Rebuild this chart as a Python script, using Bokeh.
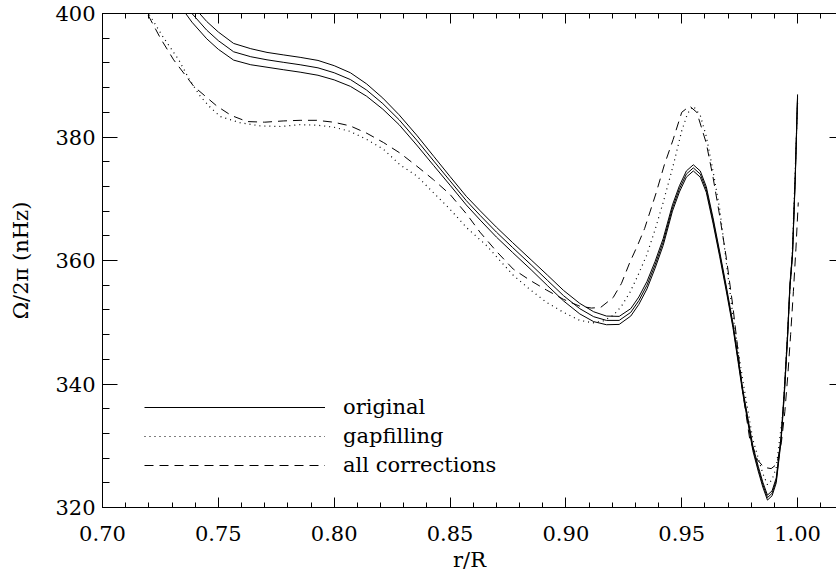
from bokeh.plotting import figure
from bokeh.models import Range1d, LinearAxis, SingleIntervalTicker, Legend, LegendItem, PrintfTickFormatter
from bokeh.embed import file_html
from bokeh.resources import INLINE

# ---- data ----
orig_r = [0.728, 0.7386, 0.745, 0.750, 0.7566, 0.764, 0.771, 0.778, 0.7853, 0.793,
          0.800, 0.807, 0.814, 0.821, 0.828, 0.8356, 0.843, 0.850, 0.857, 0.863,
          0.870, 0.877, 0.885, 0.892, 0.899, 0.906, 0.912, 0.9175, 0.923, 0.928,
          0.9315, 0.935, 0.9385, 0.942, 0.946, 0.949, 0.952, 0.955, 0.958, 0.9606,
          0.9635, 0.9664, 0.9693, 0.9721, 0.9743, 0.9764, 0.9786, 0.9807, 0.983, 0.985,
          0.987, 0.989, 0.9908, 0.9929, 0.9943, 0.9957, 0.9967, 0.9978, 0.999, 1.000]
orig_omega = [405.5, 400.0, 397.3, 395.6, 393.8, 393.0, 392.5, 392.1, 391.7, 391.2,
              390.4, 389.3, 387.6, 385.4, 382.8, 379.5, 376.1, 372.9, 369.7, 367.3,
              364.6, 362.1, 359.3, 356.8, 354.3, 352.2, 350.9, 350.3, 350.3, 351.6,
              353.5, 356.0, 359.3, 363.0, 368.5, 371.6, 374.0, 375.0, 374.0, 371.5,
              366.5, 361.0, 355.3, 349.5, 344.0, 338.7, 334.0, 329.6, 326.3, 323.7,
              321.6, 322.3, 324.4, 331.2, 338.7, 347.9, 355.9, 361.0, 373.5, 386.6]
orig_err = [1.4, 1.4, 1.4, 1.4, 1.35, 1.3, 1.2, 1.2, 1.2, 1.2,
            1.15, 1.1, 1.0, 0.9, 0.8, 0.8, 0.75, 0.7, 0.7, 0.75,
            0.8, 0.8, 0.8, 0.85, 0.85, 0.85, 0.8, 0.7, 0.65, 0.6,
            0.6, 0.6, 0.55, 0.55, 0.5, 0.5, 0.5, 0.5, 0.5, 0.45,
            0.45, 0.4, 0.4, 0.35, 0.35, 0.35, 0.35, 0.4, 0.4, 0.4,
            0.4, 0.4, 0.4, 0.35, 0.35, 0.3, 0.3, 0.3, 0.3, 0.3]

gap_r = [0.712, 0.7199, 0.7265, 0.7329, 0.7375, 0.7422, 0.7465, 0.7509, 0.7595, 0.7681,
         0.777, 0.7853, 0.793, 0.7997, 0.8069, 0.8141, 0.8213, 0.8284, 0.8356, 0.8428,
         0.850, 0.8572, 0.8658, 0.8773, 0.8845, 0.8917, 0.899, 0.906, 0.9117, 0.916,
         0.9204, 0.924, 0.9276, 0.931, 0.9348, 0.9385, 0.942, 0.9466, 0.950, 0.9525,
         0.955, 0.958, 0.9606, 0.9635, 0.9664, 0.9693, 0.9721, 0.9764, 0.9807, 0.985,
         0.987, 0.989, 0.9908, 0.9937, 0.9966, 0.9978, 1.000]
gap_omega = [405.5, 400.0, 396.0, 392.5, 389.3, 386.6, 384.8, 383.3, 382.3, 381.8,
             381.7, 382.0, 381.9, 381.6, 380.9, 379.6, 378.0, 375.5, 373.7, 371.0,
             368.3, 365.3, 362.4, 357.6, 355.3, 353.2, 351.6, 350.3, 349.9, 350.2,
             351.1, 352.6, 354.8, 357.5, 360.8, 365.0, 369.4, 375.8, 381.0, 383.8,
             385.0, 383.5, 380.1, 374.5, 368.3, 359.5, 351.0, 340.5, 331.0, 325.5,
             323.7, 324.5, 326.5, 335.5, 354.5, 362.0, 385.5]

allc_r = [0.710, 0.7193, 0.725, 0.7307, 0.7394, 0.7494, 0.7555, 0.7624, 0.770, 0.778,
          0.7853, 0.7925, 0.7997, 0.8069, 0.8141, 0.8213, 0.8284, 0.8356, 0.8428, 0.850,
          0.8572, 0.8629, 0.870, 0.8773, 0.8845, 0.8917, 0.899, 0.906, 0.911, 0.915,
          0.9204, 0.924, 0.9276, 0.931, 0.934, 0.939, 0.9425, 0.9463, 0.950, 0.9534,
          0.9565, 0.9606, 0.9635, 0.9664, 0.9693, 0.9721, 0.9764, 0.9793, 0.9827, 0.9855,
          0.9886, 0.991, 0.993, 0.9945, 0.9958, 0.997, 0.9982, 0.9993, 1.0003]
allc_omega = [406.0, 400.0, 396.0, 392.5, 388.2, 385.0, 383.5, 382.5, 382.4, 382.6,
              382.7, 382.7, 382.4, 381.8, 380.6, 379.1, 377.4, 375.3, 373.1, 370.7,
              367.5, 364.6, 361.5, 358.6, 356.8, 355.2, 353.7, 352.6, 352.3, 352.4,
              354.0, 356.3, 359.7, 362.5, 365.2, 371.0, 375.5, 379.6, 384.0, 385.0,
              384.0, 379.0, 373.5, 367.2, 360.3, 352.5, 338.5, 331.2, 327.7, 326.5,
              326.3, 327.0, 330.5, 335.5, 341.5, 348.0, 355.0, 362.0, 369.4]

legend_labels = ["original", "gapfilling", "all corrections"]

orig_hi = [m + e for m, e in zip(orig_omega, orig_err)]
orig_lo = [m - e for m, e in zip(orig_omega, orig_err)]

FONT = "DejaVu Serif"
FS = "21px"

p = figure(width=836, height=574, output_backend="svg", toolbar_location=None,
           x_range=Range1d(0.70, 1.0168), y_range=Range1d(320, 400),
           min_border_left=102, min_border_right=0, min_border_top=13, min_border_bottom=67)
p.grid.visible = False
p.outline_line_color = None
p.background_fill_color = "white"
p.border_fill_color = "white"

xticker = SingleIntervalTicker(interval=0.05, num_minor_ticks=5)
yticker = SingleIntervalTicker(interval=20, num_minor_ticks=5)

xa = p.xaxis[0]
xa.ticker = xticker
xa.formatter = PrintfTickFormatter(format="%.2f")
xa.major_tick_in = 10
xa.major_tick_out = 0
xa.minor_tick_in = 5
xa.minor_tick_out = 0
xa.major_label_standoff = 18
xa.major_label_text_font = FONT
xa.major_label_text_font_size = FS
xa.major_label_text_color = "black"
xa.axis_label = "r/R"
xa.axis_label_text_font = FONT
xa.axis_label_text_font_size = FS
xa.axis_label_text_font_style = "normal"
xa.axis_label_text_color = "black"
xa.axis_label_standoff = 4
xa.axis_line_color = "black"
xa.major_tick_line_color = "black"
xa.minor_tick_line_color = "black"

ya = p.yaxis[0]
ya.ticker = yticker
ya.major_tick_in = 15
ya.major_tick_out = 0
ya.minor_tick_in = 7
ya.minor_tick_out = 0
ya.major_label_standoff = 7
ya.major_label_text_font = FONT
ya.major_label_text_font_size = FS
ya.major_label_text_color = "black"
ya.axis_label = "Ω/2π (nHz)"
ya.axis_label_text_font = FONT
ya.axis_label_text_font_size = FS
ya.axis_label_text_font_style = "normal"
ya.axis_label_text_color = "black"
ya.axis_label_standoff = 19
ya.axis_line_color = "black"
ya.major_tick_line_color = "black"
ya.minor_tick_line_color = "black"

top = LinearAxis(ticker=xticker, major_tick_in=10, major_tick_out=0, minor_tick_in=5, minor_tick_out=0,
                 major_label_text_font_size="0px", major_label_text_color=None, major_label_text_alpha=0,
                 major_label_standoff=0,
                 axis_line_color="black", major_tick_line_color="black", minor_tick_line_color="black")
p.add_layout(top, "above")
right = LinearAxis(ticker=yticker, major_tick_in=7, major_tick_out=0, minor_tick_in=0, minor_tick_out=0,
                   major_label_text_font_size="0px", major_label_text_color=None, major_label_text_alpha=0,
                   major_label_standoff=0,
                   axis_line_alpha=0, major_tick_line_color="black", minor_tick_line_color=None)
p.add_layout(right, "right")

r_mid = p.line(orig_r, orig_omega, line_color="black", line_width=1)
p.line(orig_r, orig_hi, line_color="black", line_width=1)
p.line(orig_r, orig_lo, line_color="black", line_width=1)
r_gap = p.line(gap_r, gap_omega, line_color="black", line_width=1.2, line_dash="1 4")
r_all = p.line(allc_r, allc_omega, line_color="black", line_width=1, line_dash="9 6")

legend = Legend(items=[LegendItem(label=legend_labels[0], renderers=[r_mid]),
                       LegendItem(label=legend_labels[1], renderers=[r_gap]),
                       LegendItem(label=legend_labels[2], renderers=[r_all])],
                location=(42, 30), glyph_width=181, glyph_height=20, label_height=20,
                label_standoff=18, spacing=5, padding=0, margin=0,
                label_text_font=FONT, label_text_font_size=FS, label_text_color="black",
                border_line_alpha=0, background_fill_alpha=0)
p.add_layout(legend, "center")

open("out.html", "w").write(file_html(p, INLINE))
